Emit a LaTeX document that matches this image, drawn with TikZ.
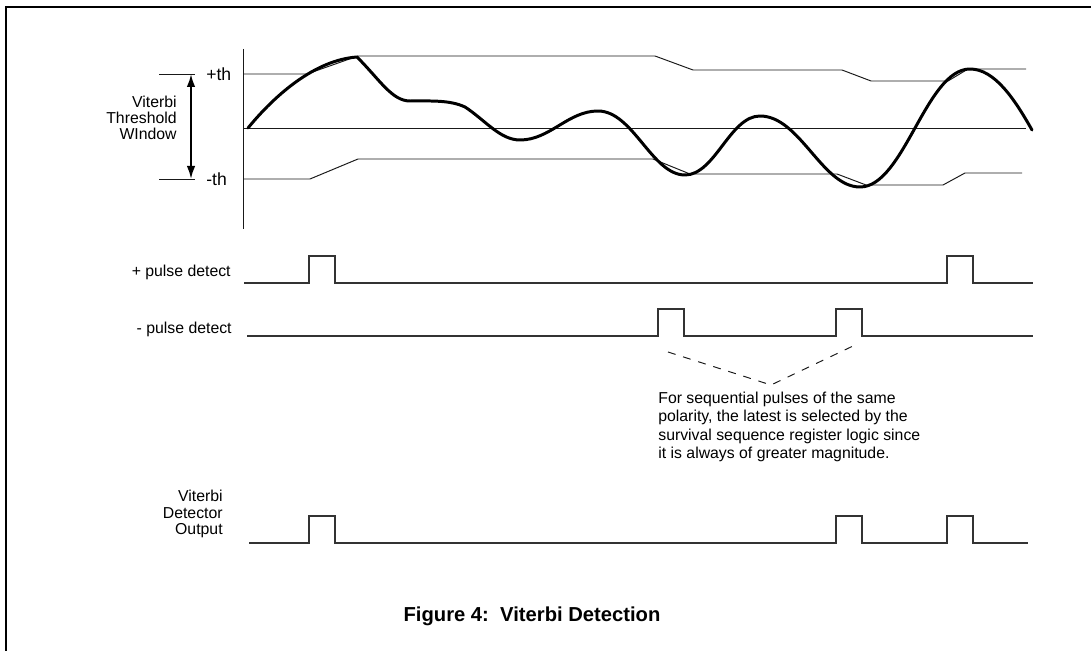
\documentclass[tikz,border=0pt]{standalone}
\usepackage{fontspec}
\setmainfont{Liberation Sans}
\usetikzlibrary{arrows.meta}

\begin{document}
\begin{tikzpicture}[
  x=0.02cm, y=-0.02cm,
  thinline/.style={black!90, line width=0.55pt},
  sigline/.style={black!80, line width=0.6pt},
  readback/.style={black, line width=1.7pt, line join=round, line cap=round},
  sidelabel/.style={font=\fontsize{9}{9.2}\selectfont, align=right, anchor=east, inner sep=0pt},
  thlabel/.style={font=\fontsize{10}{12}\selectfont, anchor=west, inner sep=0pt}
]

% ---------- dimensions ----------
\def\ph{27}
\def\pw{26}

% ---------- pulse train macro ----------
\newcommand{\pulsetrain}[4]{%
  % #1 = baseline y, #2 = x start, #3 = x end, #4 = pulse positions
  \draw[sigline] (#2,#1)
    \foreach \p in {#4} { -- (\p,#1) -- (\p,#1-\ph) -- (\p+\pw,#1-\ph) -- (\p+\pw,#1) }
    -- (#3,#1);
}

\useasboundingbox (0,0) rectangle (1091,651);

% ---------- frame ----------
\draw[line width=1.6pt] (6,651) -- (6,7) -- (1091,7);

% ---------- axes ----------
\draw[thinline] (243,49) -- (243,229);
\draw[thinline] (243,128) -- (1026,128);

% ---------- threshold window ----------
\draw[thinline] (159,74) -- (195,74);
\draw[thinline] (159,179) -- (195,179);
\coordinate (thtop) at (191,74);
\coordinate (thbot) at (191,179);
\draw[line width=1.1pt, {Latex[length=2.6mm,width=1.7mm]}-{Latex[length=2.6mm,width=1.7mm]}]
  (thtop) -- (thbot);

\node[thlabel] (pth) at (206,74) {+th};
\node[thlabel] (mth) at (206,179) {-th};
\node[sidelabel] (winlbl) at (177,118) {Viterbi\\Threshold\\WIndow};

% upper and lower threshold tracks
\draw[thinline] (243,74) -- (307,74) -- (358,56) -- (655,56) -- (693,70)
  -- (842,70) -- (871,81) -- (948,81) -- (968,69) -- (1026,69);
\draw[thinline] (243,179) -- (310,179) -- (358,159) -- (653,159) -- (690,174)
  -- (837,174) -- (866,185) -- (943,185) -- (965,173) -- (1022,173);

% ---------- readback signal ----------
\draw[readback] (248,128) .. controls (275,95) and (315,60) .. (357,57)
  .. controls (380,80) and (392,101) .. (410,101)
  .. controls (432,101) and (450,100) .. (465,107)
  .. controls (485,120) and (500,140) .. (520,140)
  .. controls (550,140) and (568,111) .. (598,111)
  .. controls (633,111) and (652,175) .. (685,175)
  .. controls (715,175) and (730,116) .. (760,116)
  .. controls (800,116) and (822,187) .. (860,187)
  .. controls (904,187) and (926,69) .. (970,69)
  .. controls (995,69) and (1015,100) .. (1032,130);

% ---------- pulse detect ----------
\node[sidelabel] (plbl) at (231,272) {+ pulse detect};
\pulsetrain{283}{244}{1033}{309,947}

\node[sidelabel] (mlbl) at (232,329) {- pulse detect};
\pulsetrain{336}{247}{1033}{658,836}

% ---------- note ----------
\coordinate (dashL) at (668,352);
\coordinate (dashM) at (771,385);
\coordinate (dashR) at (853,346);
\draw[thinline, dash pattern={on 4.5pt off 4.5pt}] (dashL) -- (dashM) -- (dashR);

\node[font=\fontsize{9}{10.3}\selectfont, align=left, anchor=north west, inner sep=0pt]
  (note) at (658,392) {For sequential pulses of the same\\polarity, the latest is selected by the\\survival sequence register logic since\\it is always of greater magnitude.};

% ---------- detector output ----------
\node[sidelabel] (outlbl) at (223,514) {Viterbi\\Detector\\Output};
\pulsetrain{543}{249}{1028}{309,836,947}

% ---------- caption ----------
\node[font=\fontsize{11.5}{14}\selectfont\bfseries, inner sep=0pt] (caption) at (532,616)
  {Figure 4:\ \ Viterbi Detection};

\end{tikzpicture}
\end{document}
